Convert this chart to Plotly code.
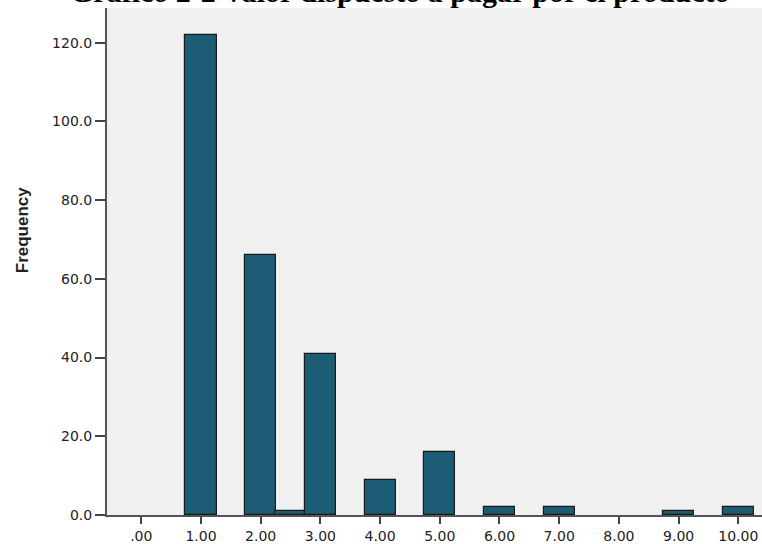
import plotly.graph_objects as go

# Data
bin_centers = [1.0, 2.0, 2.5, 3.0, 4.0, 5.0, 6.0, 7.0, 9.0, 10.0]
frequencies = [122, 66, 1, 41, 9, 16, 2, 2, 1, 2]
x_tick_values = [0, 1, 2, 3, 4, 5, 6, 7, 8, 9, 10]
x_tick_labels = [".00", "1.00", "2.00", "3.00", "4.00", "5.00", "6.00", "7.00", "8.00", "9.00", "10.00"]
y_tick_values = [0, 20, 40, 60, 80, 100, 120]
y_tick_labels = ["0.0", "20.0", "40.0", "60.0", "80.0", "100.0", "120.0"]
title_text = "Gráfico 2-2 Valor dispuesto a pagar por el producto"
y_title = "Frequency"

fig = go.Figure()
fig.add_trace(go.Bar(
    x=bin_centers,
    y=frequencies,
    width=0.52,
    marker=dict(color="#1c5c74", line=dict(color="#1a1a1a", width=1.2)),
    showlegend=False,
    hoverinfo="x+y",
))

axis_font = dict(family="DejaVu Sans", size=14, color="#222222")

fig.update_layout(
    width=762,
    height=544,
    margin=dict(l=107, r=0, t=8, b=25),
    paper_bgcolor="white",
    plot_bgcolor="#f0f0f0",
    bargap=0,
    xaxis=dict(
        range=[-0.574, 10.397],
        tickmode="array",
        tickvals=x_tick_values,
        ticktext=x_tick_labels,
        ticks="outside",
        ticklen=7,
        tickwidth=2,
        tickcolor="#444444",
        showline=True,
        linecolor="#555555",
        linewidth=2,
        showgrid=False,
        zeroline=False,
        tickfont=axis_font,
        fixedrange=True,
    ),
    yaxis=dict(
        range=[0, 128.8],
        tickmode="array",
        tickvals=y_tick_values,
        ticktext=y_tick_labels,
        ticks="outside",
        ticklen=10,
        tickwidth=2,
        tickcolor="#444444",
        showline=True,
        linecolor="#555555",
        linewidth=2,
        showgrid=False,
        zeroline=False,
        tickfont=axis_font,
        fixedrange=True,
    ),
    annotations=[
        dict(
            text="<b>" + title_text + "</b>",
            xref="paper", yref="paper",
            x=(400 - 107) / 655, y=1,
            xanchor="center", yanchor="bottom",
            yshift=-2,
            showarrow=False,
            font=dict(family="Liberation Serif", size=30, color="black"),
        ),
        dict(
            text="<b>" + y_title + "</b>",
            xref="paper", yref="paper",
            x=0, y=(519 - 232) / 511,
            xanchor="center", yanchor="middle",
            xshift=-85,
            textangle=-90,
            showarrow=False,
            font=dict(family="Liberation Sans", size=17, color="#222222"),
        ),
    ],
)

fig.write_html(
    "out.html",
    config={"displayModeBar": False},
    post_script="document.body.style.margin='0';document.body.style.padding='0';document.body.style.overflow='hidden';",
)
